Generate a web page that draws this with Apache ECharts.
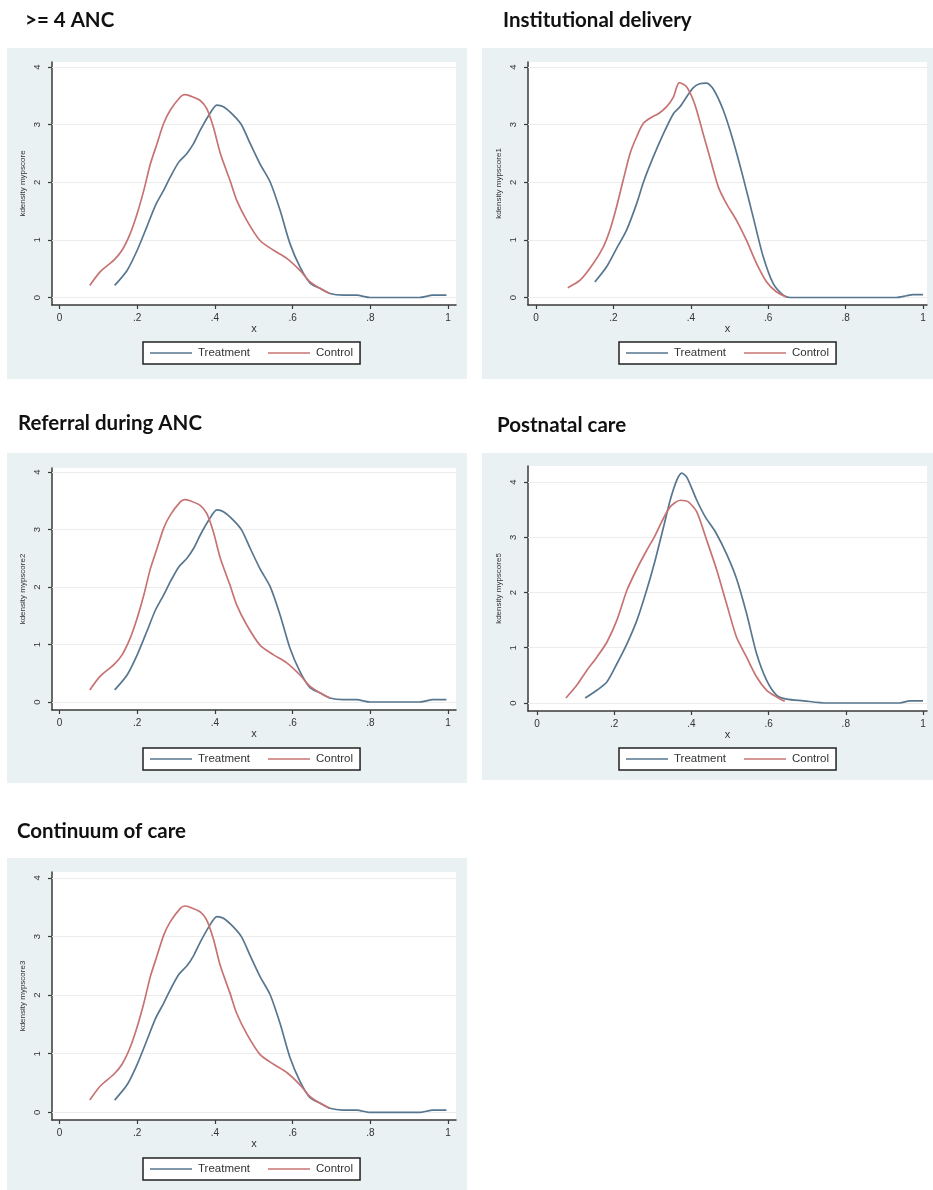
<!DOCTYPE html>
<html><head><meta charset="utf-8">
<script src="https://cdn.jsdelivr.net/npm/echarts@6/dist/echarts.min.js"></script>
<style>html,body{margin:0;padding:0;background:#fff}#c{width:933px;height:1190px}</style>
</head><body><div id="c"></div><script>
// ---------- data ----------
const panelTitles = ['>= 4 ANC', 'Institutional delivery', 'Referral during ANC', 'Postnatal care', 'Continuum of care'];
const yAxisNames = ['kdensity mypscore', 'kdensity mypscore1', 'kdensity mypscore2', 'kdensity mypscore5', 'kdensity mypscore3'];
const seriesNames = ['Treatment', 'Control'];
const xTicks = [0, 0.2, 0.4, 0.6, 0.8, 1];
const xTickLabels = ['0', '.2', '.4', '.6', '.8', '1'];
const yTicks = [0, 1, 2, 3, 4];

const anc4Treatment = [[0.142,0.21],[0.174,0.47],[0.2,0.82],[0.225,1.23],[0.247,1.60],[0.268,1.86],[0.285,2.09],[0.307,2.35],[0.328,2.50],[0.345,2.67],[0.362,2.90],[0.384,3.16],[0.405,3.34],[0.422,3.31],[0.448,3.16],[0.469,2.99],[0.491,2.67],[0.516,2.32],[0.542,2.01],[0.568,1.51],[0.593,0.94],[0.619,0.53],[0.645,0.25],[0.67,0.16],[0.696,0.07],[0.73,0.04],[0.765,0.04],[0.799,0.0],[0.876,0.0],[0.927,0.0],[0.961,0.04],[0.996,0.04]];
const anc4Control = [[0.078,0.21],[0.105,0.45],[0.14,0.65],[0.161,0.82],[0.182,1.11],[0.2,1.46],[0.217,1.86],[0.234,2.32],[0.251,2.67],[0.268,3.02],[0.285,3.25],[0.311,3.48],[0.322,3.52],[0.336,3.50],[0.362,3.42],[0.379,3.28],[0.396,2.96],[0.414,2.50],[0.439,2.03],[0.456,1.69],[0.482,1.34],[0.516,0.99],[0.551,0.82],[0.585,0.68],[0.619,0.47],[0.645,0.27],[0.67,0.16],[0.696,0.07]];

const deliveryTreatment = [[0.152,0.27],[0.182,0.53],[0.208,0.85],[0.234,1.17],[0.26,1.63],[0.278,2.01],[0.303,2.44],[0.329,2.84],[0.355,3.19],[0.372,3.31],[0.389,3.48],[0.406,3.64],[0.423,3.71],[0.441,3.72],[0.458,3.62],[0.484,3.25],[0.509,2.73],[0.535,2.09],[0.561,1.40],[0.587,0.71],[0.613,0.24],[0.639,0.04],[0.656,0.0],[0.776,0.0],[0.931,0.0],[0.957,0.03],[0.974,0.05],[1.0,0.05]];
const deliveryControl = [[0.082,0.17],[0.114,0.30],[0.148,0.59],[0.174,0.88],[0.191,1.17],[0.208,1.57],[0.225,2.03],[0.243,2.50],[0.26,2.79],[0.277,3.02],[0.299,3.13],[0.316,3.19],[0.337,3.31],[0.355,3.48],[0.37,3.73],[0.389,3.66],[0.41,3.36],[0.432,2.84],[0.449,2.44],[0.471,1.92],[0.492,1.63],[0.518,1.34],[0.544,0.99],[0.57,0.59],[0.596,0.27],[0.621,0.10],[0.647,0.01]];

const referralTreatment = [[0.142,0.21],[0.174,0.47],[0.2,0.82],[0.225,1.23],[0.247,1.60],[0.268,1.86],[0.285,2.09],[0.307,2.35],[0.328,2.50],[0.345,2.67],[0.362,2.90],[0.384,3.16],[0.405,3.34],[0.422,3.31],[0.448,3.16],[0.469,2.99],[0.491,2.67],[0.516,2.32],[0.542,2.01],[0.568,1.51],[0.593,0.94],[0.619,0.53],[0.645,0.25],[0.67,0.16],[0.696,0.07],[0.73,0.04],[0.765,0.04],[0.799,0.0],[0.876,0.0],[0.927,0.0],[0.961,0.04],[0.996,0.04]];
const referralControl = [[0.078,0.21],[0.105,0.45],[0.14,0.65],[0.161,0.82],[0.182,1.11],[0.2,1.46],[0.217,1.86],[0.234,2.32],[0.251,2.67],[0.268,3.02],[0.285,3.25],[0.311,3.48],[0.322,3.52],[0.336,3.50],[0.362,3.42],[0.379,3.28],[0.396,2.96],[0.414,2.50],[0.439,2.03],[0.456,1.69],[0.482,1.34],[0.516,0.99],[0.551,0.82],[0.585,0.68],[0.619,0.47],[0.645,0.27],[0.67,0.16],[0.696,0.07]];

const postnatalTreatment = [[0.125,0.09],[0.155,0.23],[0.181,0.38],[0.207,0.71],[0.233,1.07],[0.259,1.50],[0.284,2.04],[0.306,2.58],[0.328,3.19],[0.345,3.67],[0.362,4.03],[0.375,4.16],[0.388,4.09],[0.414,3.67],[0.436,3.37],[0.462,3.10],[0.491,2.70],[0.517,2.25],[0.543,1.62],[0.569,0.89],[0.595,0.41],[0.621,0.14],[0.647,0.07],[0.69,0.04],[0.75,0.0],[0.862,0.0],[0.94,0.0],[0.966,0.04],[1.0,0.04]];
const postnatalControl = [[0.075,0.09],[0.103,0.32],[0.129,0.59],[0.155,0.83],[0.181,1.10],[0.207,1.50],[0.233,2.04],[0.259,2.43],[0.284,2.76],[0.306,3.03],[0.323,3.28],[0.345,3.55],[0.371,3.67],[0.392,3.64],[0.414,3.46],[0.44,2.94],[0.466,2.40],[0.491,1.80],[0.517,1.19],[0.543,0.83],[0.569,0.47],[0.595,0.23],[0.621,0.11],[0.642,0.03]];

const continuumTreatment = [[0.142,0.21],[0.174,0.47],[0.2,0.82],[0.225,1.23],[0.247,1.60],[0.268,1.86],[0.285,2.09],[0.307,2.35],[0.328,2.50],[0.345,2.67],[0.362,2.90],[0.384,3.16],[0.405,3.34],[0.422,3.31],[0.448,3.16],[0.469,2.99],[0.491,2.67],[0.516,2.32],[0.542,2.01],[0.568,1.51],[0.593,0.94],[0.619,0.53],[0.645,0.25],[0.67,0.16],[0.696,0.07],[0.73,0.04],[0.765,0.04],[0.799,0.0],[0.876,0.0],[0.927,0.0],[0.961,0.04],[0.996,0.04]];
const continuumControl = [[0.078,0.21],[0.105,0.45],[0.14,0.65],[0.161,0.82],[0.182,1.11],[0.2,1.46],[0.217,1.86],[0.234,2.32],[0.251,2.67],[0.268,3.02],[0.285,3.25],[0.311,3.48],[0.322,3.52],[0.336,3.50],[0.362,3.42],[0.379,3.28],[0.396,2.96],[0.414,2.50],[0.439,2.03],[0.456,1.69],[0.482,1.34],[0.516,0.99],[0.551,0.82],[0.585,0.68],[0.619,0.47],[0.645,0.27],[0.67,0.16],[0.696,0.07]];

const treatmentData = [anc4Treatment, deliveryTreatment, referralTreatment, postnatalTreatment, continuumTreatment];
const controlData = [anc4Control, deliveryControl, referralControl, postnatalControl, continuumControl];

// ---------- layout ----------
const layout = [
  {title:[25,10], bg:[7,48,460,331], grid:[52,62,404,243], x:[-0.0193,1.0206], y:[-0.130,4.088], legend:[143,342]},
  {title:[503,10], bg:[482,48,451,331], grid:[528,62,399,243], x:[-0.0207,1.0103], y:[-0.130,4.088], legend:[619,342]},
  {title:[18,413], bg:[7,453,460,330], grid:[52,468,404,242], x:[-0.0193,1.0206], y:[-0.139,4.07], legend:[143,748]},
  {title:[497,415], bg:[482,453,451,327], grid:[528,466,399,245], x:[-0.0233,1.0104], y:[-0.145,4.29], legend:[619,748]},
  {title:[17,821], bg:[7,858,460,332], grid:[52,872,404,248], x:[-0.0193,1.0206], y:[-0.13,4.10], legend:[143,1158]}
];
const C_TREAT = '#57768f', C_CTRL = '#c87373';
const FONT = '"Liberation Sans", Arial, sans-serif';

const option = {
  animation: false,
  backgroundColor: '#ffffff',
  graphic: layout.map(l => ({type:'rect', silent:true, z:-100, shape:{x:l.bg[0], y:l.bg[1], width:l.bg[2], height:l.bg[3]}, style:{fill:'#e9f1f3'}})),
  title: layout.map((l,i) => ({text: panelTitles[i], left:l.title[0], top:l.title[1], padding:0,
    textStyle:{fontFamily:'Lato, "Open Sans", sans-serif', fontWeight:'bold', fontSize:20.5, color:'#111'}})),
  grid: layout.map(l => ({left:l.grid[0], top:l.grid[1], width:l.grid[2], height:l.grid[3], show:true, backgroundColor:'#ffffff', borderWidth:0})),
  xAxis: layout.map((l,i) => ({type:'value', gridIndex:i, min:l.x[0], max:l.x[1], name:'x', nameLocation:'middle', nameGap:18,
    nameTextStyle:{fontFamily:FONT, fontSize:11, color:'#333'},
    axisLine:{show:true, onZero:false, lineStyle:{color:'#3a3a3a', width:1.5}},
    axisTick:{show:true, customValues:xTicks, length:4, lineStyle:{color:'#3a3a3a', width:1.2}},
    axisLabel:{customValues:xTicks, margin:8, fontFamily:FONT, fontSize:10, color:'#333', formatter:v => { const k = xTicks.findIndex(t => Math.abs(t-v)<1e-6); return k>=0 ? xTickLabels[k] : ''; }},
    splitLine:{show:false}})),
  yAxis: layout.map((l,i) => ({type:'value', gridIndex:i, min:l.y[0], max:l.y[1], name:yAxisNames[i], nameLocation:'middle', nameRotate:90, nameGap:25,
    nameTextStyle:{fontFamily:FONT, fontSize:8, color:'#333'},
    axisLine:{show:true, onZero:false, lineStyle:{color:'#3a3a3a', width:1.5}},
    axisTick:{show:true, customValues:yTicks, length:4, lineStyle:{color:'#3a3a3a', width:1.2}},
    axisLabel:{customValues:yTicks, rotate:90, margin:10, fontFamily:FONT, fontSize:9.5, color:'#333', formatter:v => String(Math.round(v))},
    splitLine:{show:false}})),
  legend: layout.map((l,i) => ({left:l.legend[0], top:l.legend[1], data:seriesNames.map(n => ({name:n, icon:'rect'})), orient:'horizontal',
    itemWidth:42, itemHeight:1.6, itemGap:18, padding:[5,7,5,7], borderColor:'#222', borderWidth:1.5, backgroundColor:'#fff', borderRadius:0,
    textStyle:{fontFamily:FONT, fontSize:11.5, color:'#333', padding:[0,0,0,1]}, selectedMode:false})),
  series: []
};
layout.forEach((l,i) => {
  option.series.push({name:seriesNames[0], type:'line', xAxisIndex:i, yAxisIndex:i, data:treatmentData[i], symbol:'none', showSymbol:false, smooth:0.25,
    lineStyle:{color:C_TREAT, width:1.7}, itemStyle:{color:C_TREAT},
    markLine:{silent:true, symbol:'none', label:{show:false}, z:1, lineStyle:{color:'#ececec', width:1, type:'solid'}, data: yTicks.map(v => ({yAxis:v}))}});
  option.series.push({name:seriesNames[1], type:'line', xAxisIndex:i, yAxisIndex:i, data:controlData[i], symbol:'none', showSymbol:false, smooth:0.25,
    lineStyle:{color:C_CTRL, width:1.7}, itemStyle:{color:C_CTRL}});
});
const chart = echarts.init(document.getElementById('c'), null, {renderer:'canvas'});
chart.setOption(option);
</script></body></html>
